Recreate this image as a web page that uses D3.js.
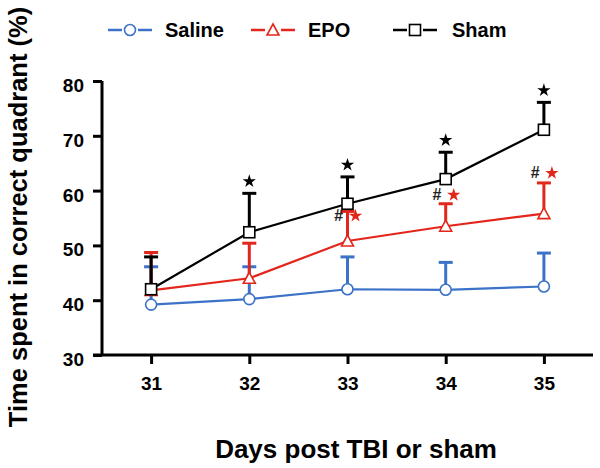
<!DOCTYPE html>
<html><head><meta charset="utf-8">
<script src="https://cdn.jsdelivr.net/npm/d3@7"></script>
<style>body{margin:0;background:#fff}svg{display:block}</style>
</head><body>
<svg id="c" width="600" height="468"></svg>
<script>
const days = [31, 32, 33, 34, 35];
const yTicks = [30, 40, 50, 60, 70, 80];
const salineMean = [39.2, 40.2, 42.0, 41.9, 42.5];
const salineErrTop = [46.1, 46.1, 47.9, 46.9, 48.6];
const epoMean = [41.8, 44.0, 50.8, 53.5, 55.8];
const epoErrTop = [48.7, 50.4, 56.2, 57.6, 61.4];
const shamMean = [42.0, 52.4, 57.6, 62.1, 71.1];
const shamErrTop = [47.9, 59.5, 62.5, 67.0, 76.1];
const shamSig = [false, true, true, true, true];
const epoSigLevel = [null, null, 55.4, 59.2, 63.2];
const seriesNames = ["Saline", "EPO", "Sham"];
const seriesColors = ["#3c72c8", "#e3261b", "#000000"];

const svg = d3.select("#c");
const FONT = "'Liberation Sans', Arial, Helvetica, sans-serif";
const x = d3.scaleLinear().domain([30.5, 35.5]).range([102, 593]);
const y = d3.scaleLinear().domain([30, 80]).range([355, 81]);

// axes
const yAx = svg.append("g").attr("transform", "translate(102,0)")
  .call(d3.axisLeft(y).tickValues(yTicks).tickSize(9).tickSizeOuter(0).tickPadding(9));
const xAx = svg.append("g").attr("transform", "translate(0,355)")
  .call(d3.axisBottom(x).tickValues(days).tickSize(9).tickSizeOuter(0).tickPadding(13).tickFormat(d3.format("d")));
[yAx, xAx].forEach(g => {
  g.selectAll("path,line").attr("stroke", "#000").attr("stroke-width", 3);
  g.selectAll("text").attr("font-family", FONT).attr("font-weight", "bold")
    .attr("font-size", 19).attr("fill", "#000");
});
yAx.selectAll("text").attr("dy", "0.55em");
yAx.select(".domain").attr("d", `M0,${y(80)}V${y(30)}`);
xAx.select(".domain").attr("d", `M${x(30.5) - 9},0H${x(35.5)}`);

// titles
svg.append("text").attr("x", 356).attr("y", 458).attr("text-anchor", "middle")
  .attr("font-family", FONT).attr("font-weight", "bold").attr("font-size", 26)
  .text("Days post TBI or sham");
svg.append("text").attr("transform", "translate(27,217) rotate(-90)").attr("text-anchor", "middle")
  .attr("font-family", FONT).attr("font-weight", "bold").attr("font-size", 25.5)
  .text("Time spent in correct quadrant (%)");

const series = [
  { name: "Saline", mean: salineMean, top: salineErrTop, color: seriesColors[0], sym: "circle" },
  { name: "EPO", mean: epoMean, top: epoErrTop, color: seriesColors[1], sym: "triangle" },
  { name: "Sham", mean: shamMean, top: shamErrTop, color: seriesColors[2], sym: "square" }
];

function marker(g, sym, cx, cy, color) {
  if (sym === "circle") {
    g.append("circle").attr("cx", cx).attr("cy", cy).attr("r", 5.5)
      .attr("fill", "#fff").attr("stroke", color).attr("stroke-width", 1.6);
  } else if (sym === "triangle") {
    g.append("path").attr("transform", `translate(${cx},${cy})`)
      .attr("d", "M0,-6L6,5H-6Z").attr("fill", "#fff").attr("stroke", color).attr("stroke-width", 1.6);
  } else {
    g.append("rect").attr("x", cx - 5.5).attr("y", cy - 5.5).attr("width", 11).attr("height", 11)
      .attr("fill", "#fff").attr("stroke", color).attr("stroke-width", 1.6);
  }
}

const line = d3.line().x((d, i) => x(days[i])).y(d => y(d));
series.forEach(s => {
  const g = svg.append("g");
  days.forEach((d, i) => {
    g.append("line").attr("x1", x(d)).attr("x2", x(d)).attr("y1", y(s.mean[i])).attr("y2", y(s.top[i]))
      .attr("stroke", s.color).attr("stroke-width", 3);
    g.append("line").attr("x1", x(d) - 7).attr("x2", x(d) + 7).attr("y1", y(s.top[i])).attr("y2", y(s.top[i]))
      .attr("stroke", s.color).attr("stroke-width", 3);
  });
  g.append("path").attr("d", line(s.mean)).attr("fill", "none")
    .attr("stroke", s.color).attr("stroke-width", 2.2);
  days.forEach((d, i) => marker(g, s.sym, x(d), y(s.mean[i]), s.color));
});

// significance marks
const star = d3.symbol().type(d3.symbolStar).size(55);
days.forEach((d, i) => {
  if (shamSig[i]) {
    svg.append("path").attr("d", star()).attr("fill", "#000")
      .attr("transform", `translate(${x(d)},${y(shamErrTop[i]) - 12})`);
  }
  if (epoSigLevel[i] != null) {
    svg.append("text").attr("x", x(d) - 9).attr("y", y(epoSigLevel[i]) + 5)
      .attr("text-anchor", "middle").attr("font-family", FONT).attr("font-weight", "bold")
      .attr("font-style", "italic").attr("font-size", 16).attr("fill", "#222").text("#");
    svg.append("path").attr("d", star()).attr("fill", seriesColors[1])
      .attr("transform", `translate(${x(d) + 8},${y(epoSigLevel[i])})`);
  }
});

// legend
const legX = [108, 251, 393];
const textX = [165, 308, 452];
series.forEach((s, i) => {
  const g = svg.append("g");
  const lx = legX[i], cy = 30;
  g.append("line").attr("x1", lx).attr("x2", lx + 14).attr("y1", cy).attr("y2", cy)
    .attr("stroke", s.color).attr("stroke-width", 2.5);
  g.append("line").attr("x1", lx + 30).attr("x2", lx + 44).attr("y1", cy).attr("y2", cy)
    .attr("stroke", s.color).attr("stroke-width", 2.5);
  marker(g, s.sym, lx + 22, cy, s.color);
  g.append("text").attr("x", textX[i]).attr("y", 37).attr("font-family", FONT)
    .attr("font-weight", "bold").attr("font-size", 20).attr("fill", "#000").text(seriesNames[i]);
});
</script>
</body></html>
